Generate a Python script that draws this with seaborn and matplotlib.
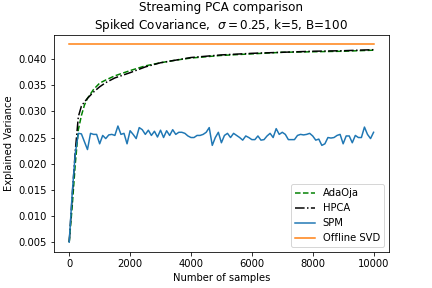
"""Streaming PCA comparison: explained variance vs number of samples."""
import matplotlib
matplotlib.use("Agg")
import matplotlib.pyplot as plt
import numpy as np
import seaborn as sns

# SPM: one value per block of B=100 samples
spm_x = np.arange(0, 10001, 100)
spm_y = [
    0.0050, 0.0145, 0.0220, 0.0258, 0.0257, 0.0242, 0.0227, 0.0258, 0.0256, 0.0256,
    0.0238, 0.0254, 0.0248, 0.0255, 0.0256, 0.0254, 0.0272, 0.0256, 0.0258, 0.0238,
    0.0263, 0.0256, 0.0248, 0.0269, 0.0265, 0.0256, 0.0264, 0.0254, 0.0262, 0.0251,
    0.0264, 0.0250, 0.0263, 0.0254, 0.0265, 0.0256, 0.0260, 0.0260, 0.0258, 0.0253,
    0.0250, 0.0250, 0.0254, 0.0254, 0.0256, 0.0260, 0.0269, 0.0235, 0.0250, 0.0260,
    0.0240, 0.0254, 0.0258, 0.0250, 0.0258, 0.0254, 0.0250, 0.0245, 0.0253, 0.0250,
    0.0246, 0.0246, 0.0253, 0.0245, 0.0246, 0.0253, 0.0258, 0.0250, 0.0267, 0.0256,
    0.0260, 0.0256, 0.0246, 0.0246, 0.0246, 0.0254, 0.0256, 0.0255, 0.0256, 0.0258,
    0.0253, 0.0245, 0.0247, 0.0235, 0.0238, 0.0250, 0.0249, 0.0250, 0.0254, 0.0256,
    0.0238, 0.0253, 0.0253, 0.0240, 0.0254, 0.0250, 0.0250, 0.0270, 0.0256, 0.0248,
    0.0260,
]

curve_x = [0, 100, 200, 300, 400, 500, 600, 800, 1000, 1200, 1500, 2000, 2500,
           3000, 3500, 4000, 5000, 6000, 7000, 8000, 9000, 10000]
adaoja_y = [0.0050, 0.0120, 0.0200, 0.0265, 0.0292, 0.0312, 0.0325, 0.0342, 0.0354,
            0.0360, 0.0368, 0.0378, 0.0387, 0.0393, 0.0398, 0.0402, 0.0407, 0.0410,
            0.0413, 0.0414, 0.0415, 0.0417]
hpca_y = [0.0050, 0.0140, 0.0225, 0.0290, 0.0310, 0.0318, 0.0325, 0.0337, 0.0347,
          0.0355, 0.0364, 0.0374, 0.0385, 0.0393, 0.0398, 0.0403, 0.0408, 0.0411,
          0.0413, 0.0415, 0.0416, 0.0418]

svd_x = [0, 10000]
svd_y = [0.0428, 0.0428]

fig, ax = plt.subplots(figsize=(6, 4), dpi=72)
fig.subplots_adjust(bottom=0.125)
sns.lineplot(x=curve_x, y=adaoja_y, ax=ax, color="green", linestyle="--", label="AdaOja")
sns.lineplot(x=curve_x, y=hpca_y, ax=ax, color="black", linestyle="-.", label="HPCA")
sns.lineplot(x=spm_x, y=spm_y, ax=ax, color="tab:blue", label="SPM")
sns.lineplot(x=svd_x, y=svd_y, ax=ax, color="tab:orange", label="Offline SVD")

ax.set_xlabel("Number of samples")
ax.set_ylabel("Explained Variance")
ax.set_title("Streaming PCA comparison\nSpiked Covariance,  $\\sigma=0.25$, k=5, B=100")
ax.legend(loc="lower right")

fig.savefig("out.png", dpi=72)
plt.close(fig)
